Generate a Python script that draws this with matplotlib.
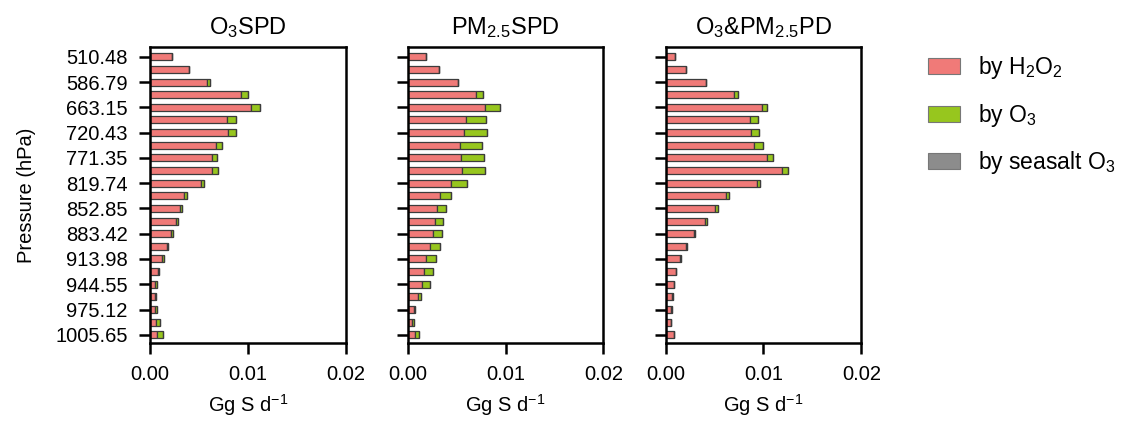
import matplotlib
matplotlib.use("Agg")
from matplotlib import pyplot as plt
from matplotlib.patches import Patch
import numpy as np

plt.rcParams['font.family'] = ['Liberation Sans', 'DejaVu Sans']
plt.rcParams['mathtext.fontset'] = 'custom'
plt.rcParams['mathtext.rm'] = 'Liberation Sans'
plt.rcParams['mathtext.it'] = 'Liberation Sans'

# labelled pressure levels (every second model level, top to bottom)
pressure_labels = ['510.48', '586.79', '663.15', '720.43', '771.35', '819.74',
                   '852.85', '883.42', '913.98', '944.55', '975.12', '1005.65']
n_levels = 23

titles = [r'O$_3$SPD', r'PM$_{2.5}$SPD', r'O$_3$&PM$_{2.5}$PD']

# sulfate production, Gg S d-1, ordered from 510.48 hPa down to the surface
o3spd_h2o2 = [0.00222, 0.00397, 0.00588, 0.00930, 0.01032, 0.00786, 0.00797, 0.00680,
              0.00639, 0.00639, 0.00520, 0.00352, 0.00308, 0.00270, 0.00219, 0.00174,
              0.00126, 0.00085, 0.00051, 0.00048, 0.00048, 0.00062, 0.00072]
o3spd_o3 = [0.00000, 0.00000, 0.00027, 0.00075, 0.00096, 0.00089, 0.00082, 0.00058,
            0.00051, 0.00058, 0.00034, 0.00024, 0.00017, 0.00014, 0.00014, 0.00010,
            0.00014, 0.00010, 0.00017, 0.00014, 0.00024, 0.00038, 0.00062]
o3spd_salt = [0.0] * n_levels

pmspd_h2o2 = [0.00191, 0.00324, 0.00512, 0.00696, 0.00792, 0.00600, 0.00580, 0.00539,
              0.00543, 0.00560, 0.00447, 0.00328, 0.00300, 0.00283, 0.00259, 0.00229,
              0.00191, 0.00164, 0.00143, 0.00102, 0.00061, 0.00048, 0.00072]
pmspd_o3 = [0.00000, 0.00000, 0.00007, 0.00072, 0.00147, 0.00205, 0.00232, 0.00222,
            0.00242, 0.00235, 0.00164, 0.00113, 0.00089, 0.00082, 0.00089, 0.00102,
            0.00096, 0.00096, 0.00089, 0.00034, 0.00010, 0.00017, 0.00041]
pmspd_salt = [0.0] * n_levels

bothpd_h2o2 = [0.00099, 0.00204, 0.00408, 0.00700, 0.00986, 0.00864, 0.00871, 0.00905,
               0.01041, 0.01194, 0.00929, 0.00619, 0.00507, 0.00398, 0.00289, 0.00204,
               0.00150, 0.00102, 0.00085, 0.00068, 0.00054, 0.00051, 0.00085]
bothpd_o3 = [0.00000, 0.00000, 0.00007, 0.00037, 0.00054, 0.00075, 0.00088, 0.00085,
             0.00054, 0.00054, 0.00031, 0.00031, 0.00024, 0.00027, 0.00014, 0.00010,
             0.00003, 0.00003, 0.00003, 0.00003, 0.00007, 0.00003, 0.00003]
bothpd_salt = [0.0] * n_levels

panels = [(o3spd_h2o2, o3spd_o3, o3spd_salt),
          (pmspd_h2o2, pmspd_o3, pmspd_salt),
          (bothpd_h2o2, bothpd_o3, bothpd_salt)]

c_h2o2 = '#F07A78'
c_o3 = '#97C61E'
c_salt = '#8C8C8C'
edge = '#3C3C3C'

fig = plt.figure(figsize=(11.27, 4.21), dpi=100)
lefts = [0.1331, 0.3618, 0.5907]
y = np.arange(n_levels)

for i, (h2o2, o3, salt) in enumerate(panels):
    ax = fig.add_axes([lefts[i], 0.1853, 0.1735, 0.703])
    h2o2 = np.array(h2o2)
    o3 = np.array(o3)
    salt = np.array(salt)
    kw = dict(height=0.55, edgecolor=edge, linewidth=0.9)
    ax.barh(y, h2o2, color=c_h2o2, **kw)
    ax.barh(y, o3, left=h2o2, color=c_o3, **kw)
    ax.barh(y, salt, left=h2o2 + o3, color=c_salt, **kw)

    ax.set_xlim(0, 0.02)
    ax.set_ylim(n_levels - 0.35, -0.77)
    ax.set_xticks([0, 0.01, 0.02])
    ax.set_xticklabels(['0.00', '0.01', '0.02'])
    ax.set_yticks(y[::2])
    if i == 0:
        ax.set_yticklabels(pressure_labels)
        ax.set_ylabel('Pressure (hPa)', fontsize=14.5, labelpad=14)
    else:
        ax.set_yticklabels([])
    ax.set_xlabel(r'Gg S d$^{-1}$', fontsize=14.5, labelpad=6)
    ax.set_title(titles[i], fontsize=17, pad=9)
    ax.tick_params(axis='both', labelsize=14.5, width=1.8, length=8, direction='out')
    ax.tick_params(axis='y', pad=8)
    ax.tick_params(axis='x', pad=8)
    for s in ax.spines.values():
        s.set_linewidth(1.8)

handles = [Patch(facecolor=c_h2o2, edgecolor='#777777', linewidth=0.8),
           Patch(facecolor=c_o3, edgecolor='#777777', linewidth=0.8),
           Patch(facecolor=c_salt, edgecolor='#777777', linewidth=0.8)]
labels = [r'by H$_2$O$_2$', r'by O$_3$', r'by seasalt O$_3$']
fig.legend(handles, labels, loc='upper left', bbox_to_anchor=(0.8155, 0.893),
           borderaxespad=0, frameon=False, fontsize=16.5, handlelength=1.4,
           handleheight=0.7, handletextpad=0.75, labelspacing=0.9)

fig.savefig('out.png', dpi=100)
